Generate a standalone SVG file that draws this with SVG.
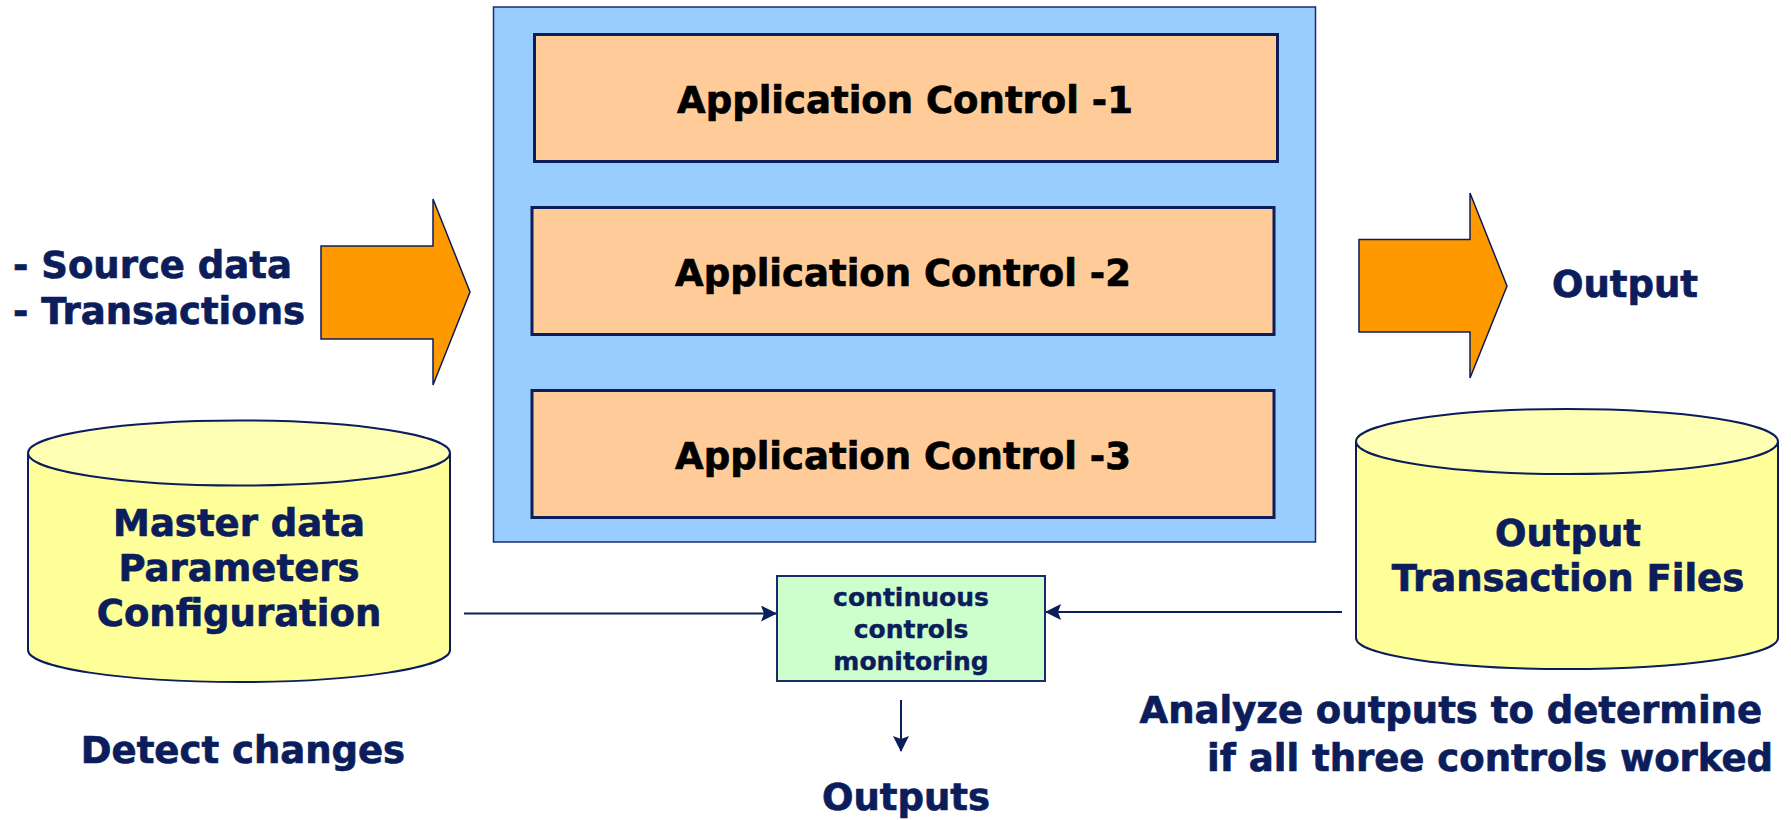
<svg xmlns="http://www.w3.org/2000/svg" width="1791" height="820" viewBox="0 0 1791 820">
  <style>
    .lbl { font-family: "DejaVu Sans", Verdana, sans-serif; font-weight: bold; font-size: 37px; fill: #0C1D5B; stroke: #0C1D5B; stroke-width: 0.7; }
    .ctl { font-family: "DejaVu Sans", Verdana, sans-serif; font-weight: bold; font-size: 37px; fill: #000000; stroke: #000000; stroke-width: 0.7; text-anchor: middle; }
    .small { font-family: "DejaVu Sans", Verdana, sans-serif; font-weight: bold; font-size: 25px; fill: #0C1D5B; stroke: #0C1D5B; stroke-width: 0.4; text-anchor: middle; }
    .mid { text-anchor: middle; }
    .end { text-anchor: end; }
    .outer { fill: #99CCFF; stroke: #1A2A6C; stroke-width: 1.5; }
    .ctlbox { fill: #FFCC99; stroke: #0C1D5B; stroke-width: 3; }
    .bigarrow { fill: #FF9900; stroke: #0C1D5B; stroke-width: 1.5; stroke-linejoin: miter; }
    .cyl { fill: #FFFF99; stroke: #0C1D5B; stroke-width: 2; }
    .cyltop { fill: #FFFFB3; stroke: #0C1D5B; stroke-width: 2; }
    .monitor { fill: #CCFFCC; stroke: #1A2A6C; stroke-width: 2; }
    .conn { stroke: #0C1D5B; stroke-width: 2; fill: none; }
  </style>
  <defs>
    <marker id="headLg" viewBox="0 0 16 16" refX="15" refY="8" markerWidth="16" markerHeight="16" orient="auto" markerUnits="userSpaceOnUse">
      <path d="M0,0 L16,8 L0,16 L3,8 Z" fill="#0C1D5B"/>
    </marker>
  </defs>

  <rect width="1791" height="820" fill="#FFFFFF"/>

  <!-- application container with its three controls -->
  <g id="application">
    <rect class="outer" x="493.5" y="7" width="822" height="535"/>
  </g>
  <g id="control-1">
    <rect class="ctlbox" x="534.5" y="34.5" width="743" height="127"/>
    <text class="ctl" x="905" y="113">Application Control -1</text>
  </g>
  <g id="control-2">
    <rect class="ctlbox" x="532" y="207.5" width="742" height="127"/>
    <text class="ctl" x="903" y="286">Application Control -2</text>
  </g>
  <g id="control-3">
    <rect class="ctlbox" x="532" y="390.5" width="742" height="127"/>
    <text class="ctl" x="903" y="469">Application Control -3</text>
  </g>

  <!-- inputs -->
  <g id="inputs">
    <text class="lbl" x="13" y="278">- Source data</text>
    <text class="lbl" x="13" y="324">- Transactions</text>
    <path class="bigarrow" d="M321,246 L433,246 L433,199 L470,292 L433,385 L433,339 L321,339 Z"/>
  </g>

  <!-- output arrow -->
  <g id="output">
    <path class="bigarrow" d="M1359,239.5 L1470,239.5 L1470,193 L1507,286 L1470,378 L1470,332 L1359,332 Z"/>
    <text class="lbl" x="1552" y="297">Output</text>
  </g>

  <!-- master data store -->
  <g id="master-data">
    <path class="cyl" d="M28,453 L28,650 A211,32 0 0 0 450,650 L450,453"/>
    <ellipse class="cyltop" cx="239" cy="453" rx="211" ry="32.5"/>
    <text class="lbl mid" x="239" y="536">Master data</text>
    <text class="lbl mid" x="239" y="581">Parameters</text>
    <text class="lbl mid" x="239" y="626">Configuration</text>
  </g>
  <text class="lbl mid" x="243" y="763">Detect changes</text>

  <!-- output transaction files store -->
  <g id="output-files">
    <path class="cyl" d="M1356,441.5 L1356,638 A211,31 0 0 0 1778,638 L1778,441.5"/>
    <ellipse class="cyltop" cx="1567" cy="441.5" rx="211" ry="32.5"/>
    <text class="lbl mid" x="1568" y="546">Output</text>
    <text class="lbl mid" x="1568" y="591">Transaction Files</text>
  </g>
  <text class="lbl end" x="1762" y="723">Analyze outputs to determine</text>
  <text class="lbl end" x="1773" y="771">if all three controls worked</text>

  <!-- monitoring -->
  <g id="monitoring">
    <rect class="monitor" x="777" y="576" width="268" height="105"/>
    <text class="small" x="911" y="606">continuous</text>
    <text class="small" x="911" y="638">controls</text>
    <text class="small" x="911" y="670">monitoring</text>
  </g>
  <text class="lbl mid" x="906" y="810">Outputs</text>

  <!-- connectors -->
  <g id="connectors">
    <line class="conn" x1="464" y1="613.5" x2="776" y2="613.5" marker-end="url(#headLg)"/>
    <line class="conn" x1="1342" y1="612" x2="1046" y2="612" marker-end="url(#headLg)"/>
    <line class="conn" x1="901" y1="700" x2="901" y2="751" marker-end="url(#headLg)"/>
  </g>
</svg>
